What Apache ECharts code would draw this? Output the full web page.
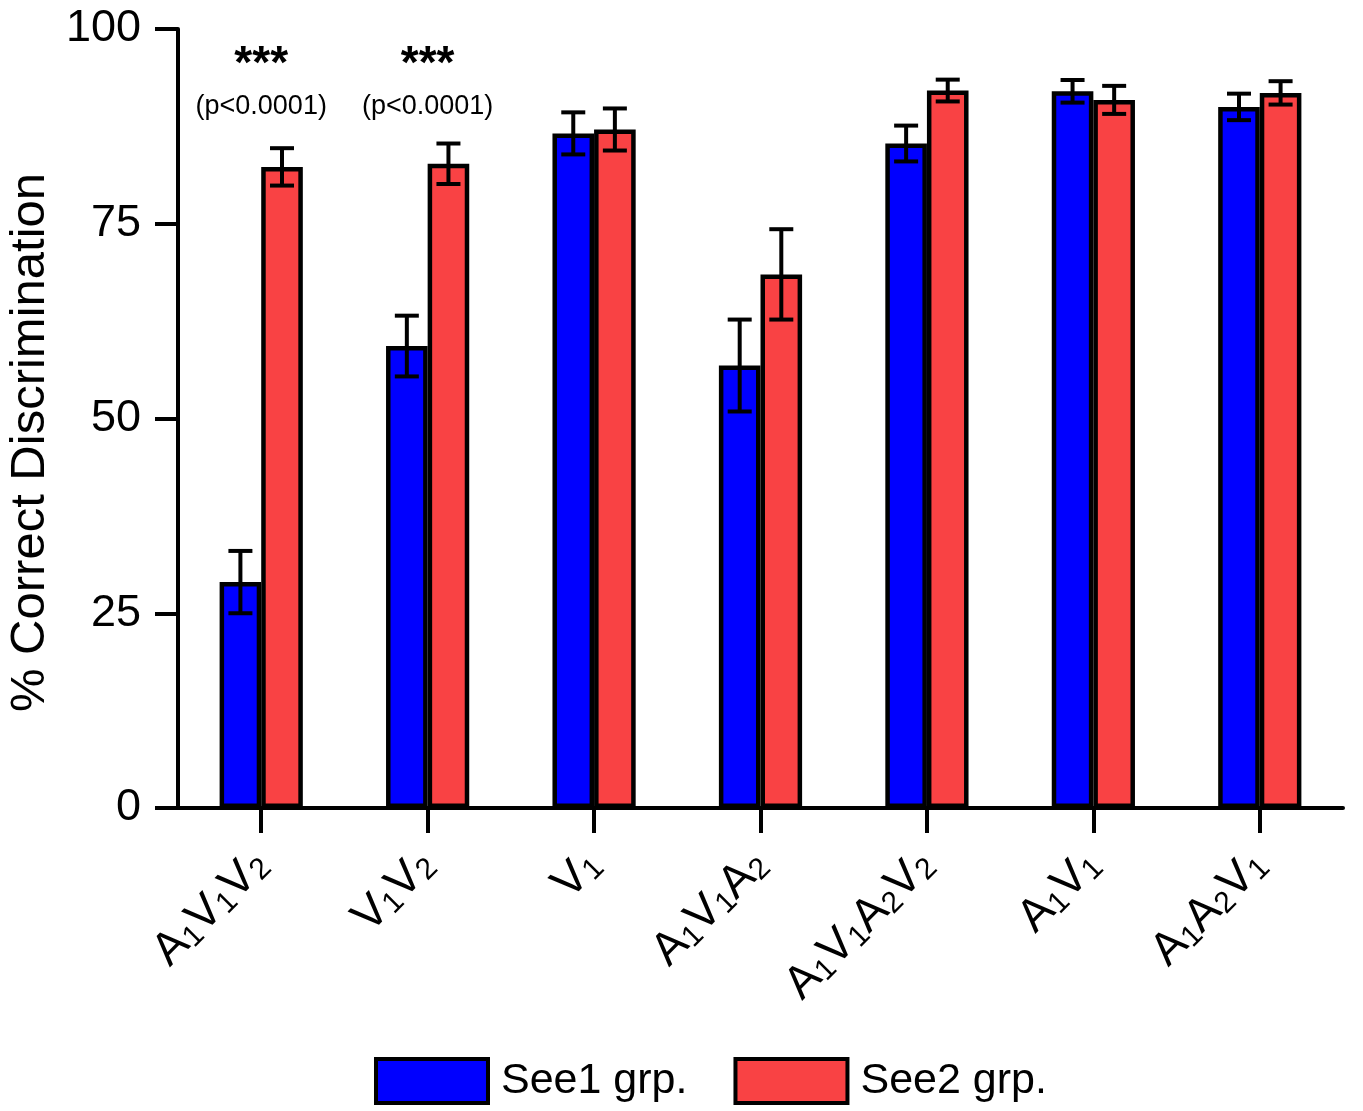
<!DOCTYPE html>
<html>
<head>
<meta charset="utf-8">
<script src="https://cdn.jsdelivr.net/npm/echarts@6/dist/echarts.min.js"></script>
<style>
html,body{margin:0;padding:0;background:#fff;}
#chart{width:1363px;height:1111px;}
</style>
</head>
<body>
<div id="chart"></div>
<script>
const categories = ['A1V1V2', 'V1V2', 'V1', 'A1V1A2', 'A1V1A2V2', 'A1V1', 'A1A2V1'];
const categoryLabels = [
  '{a|A}{s|1}{a|V}{s|1}{a|V}{s|2}',
  '{a|V}{s|1}{a|V}{s|2}',
  '{a|V}{s|1}',
  '{a|A}{s|1}{a|V}{s|1}{a|A}{s|2}',
  '{a|A}{s|1}{a|V}{s|1}{a|A}{s|2}{a|V}{s|2}',
  '{a|A}{s|1}{a|V}{s|1}',
  '{a|A}{s|1}{a|A}{s|2}{a|V}{s|1}'
];
const see1Mean = [29.0, 59.3, 86.6, 56.8, 85.3, 92.0, 90.0];
const see1Err  = [4.0, 3.9, 2.7, 5.9, 2.3, 1.45, 1.7];
const see2Mean = [82.3, 82.7, 87.1, 68.5, 92.1, 90.9, 91.8];
const see2Err  = [2.4, 2.6, 2.7, 5.8, 1.4, 1.8, 1.5];
const seriesNames = ['See1 grp.', 'See2 grp.'];
const yTicks = [0, 25, 50, 75, 100];
const sigCategories = ['A1V1V2', 'V1V2'];
const sigStars = ['***', '***'];
const sigText = ['(p<0.0001)', '(p<0.0001)'];
const starLevel = 95.4;
const pLevel = 90.0;

const BLUE = '#0000FF';
const RED = '#F94244';
const FONT = 'Liberation Sans, Arial, Helvetica, sans-serif';

function errData(mean, err) {
  return mean.map((m, i) => [i, m - err[i], m + err[i]]);
}
function errSeries(mean, err, side) {
  return {
    type: 'custom',
    z: 10,
    silent: true,
    data: errData(mean, err),
    renderItem: function (params, api) {
      const band = api.size([1, 0])[0];
      const cx = api.coord([api.value(0), 0])[0] + side * band * 0.125;
      const yLo = api.coord([api.value(0), api.value(1)])[1];
      const yHi = api.coord([api.value(0), api.value(2)])[1];
      const hw = 12;
      const st = { stroke: '#000', lineWidth: 4 };
      return {
        type: 'group',
        children: [
          { type: 'line', shape: { x1: cx, y1: yLo, x2: cx, y2: yHi }, style: st },
          { type: 'line', shape: { x1: cx - hw, y1: yLo, x2: cx + hw, y2: yLo }, style: st },
          { type: 'line', shape: { x1: cx - hw, y1: yHi, x2: cx + hw, y2: yHi }, style: st }
        ]
      };
    }
  };
}

const chart = echarts.init(document.getElementById('chart'));
chart.setOption({
  backgroundColor: '#fff',
  animation: false,
  textStyle: { fontFamily: FONT, color: '#000' },
  grid: { left: 178, right: 20, top: 29, bottom: 303, containLabel: false, outerBoundsMode: 'none' },
  legend: {
    data: seriesNames,
    left: 369,
    top: 1052,
    itemWidth: 112,
    itemHeight: 44,
    itemGap: 46,
    icon: 'rect',
    itemStyle: { borderColor: '#000', borderWidth: 4 },
    textStyle: { fontSize: 43, color: '#000', fontFamily: FONT, padding: [0, 0, 0, 8] }
  },
  xAxis: {
    type: 'category',
    data: categories,
    axisLine: { show: true, lineStyle: { color: '#000', width: 4 } },
    axisTick: { show: true, alignWithLabel: true, length: 25, lineStyle: { color: '#000', width: 4 } },
    axisLabel: {
      rotate: 45,
      margin: 50,
      interval: 0,
      formatter: function (v, i) { return categoryLabels[i]; },
      rich: {
        a: { fontSize: 46, fontFamily: FONT, color: '#000' },
        s: { fontSize: 30, fontFamily: FONT, color: '#000', verticalAlign: 'bottom' }
      }
    },
    splitLine: { show: false }
  },
  yAxis: {
    type: 'value',
    min: 0,
    max: 100,
    interval: 25,
    name: '% Correct Discrimination',
    nameLocation: 'middle',
    nameGap: 122,
    nameTextStyle: { fontSize: 49, color: '#000', fontFamily: FONT, padding: [0, 48, 0, 0] },
    axisLine: { show: true, lineStyle: { color: '#000', width: 4 } },
    axisTick: { show: true, length: 23, lineStyle: { color: '#000', width: 4 } },
    axisLabel: {
      fontSize: 45, color: '#000', margin: 37, fontFamily: FONT,
      formatter: function (v) { return yTicks.indexOf(v) >= 0 ? String(v) : ''; }
    },
    splitLine: { show: false }
  },
  series: [
    {
      name: seriesNames[0],
      type: 'bar',
      data: see1Mean,
      barWidth: '25%',
      barGap: '0%',
      itemStyle: { color: BLUE, borderColor: '#000', borderWidth: 4.5 }
    },
    {
      name: seriesNames[1],
      type: 'bar',
      data: see2Mean,
      barWidth: '25%',
      barGap: '0%',
      itemStyle: { color: RED, borderColor: '#000', borderWidth: 4.5 }
    },
    errSeries(see1Mean, see1Err, -1),
    errSeries(see2Mean, see2Err, 1),
    {
      type: 'scatter',
      silent: true,
      symbolSize: 1,
      itemStyle: { color: 'transparent', opacity: 1 },
      data: sigCategories.map((c, i) => ({ value: [c, starLevel], name: sigStars[i] })),
      label: { show: true, position: 'inside', formatter: '{b}', fontSize: 46, fontWeight: 'bold', color: '#000', opacity: 1, textBorderWidth: 0, fontFamily: FONT }
    },
    {
      type: 'scatter',
      silent: true,
      symbolSize: 1,
      itemStyle: { color: 'transparent', opacity: 1 },
      data: sigCategories.map((c, i) => ({ value: [c, pLevel], name: sigText[i] })),
      label: { show: true, position: 'inside', formatter: '{b}', fontSize: 27, color: '#000', opacity: 1, textBorderWidth: 0, fontFamily: FONT }
    }
  ]
});
</script>
</body>
</html>
